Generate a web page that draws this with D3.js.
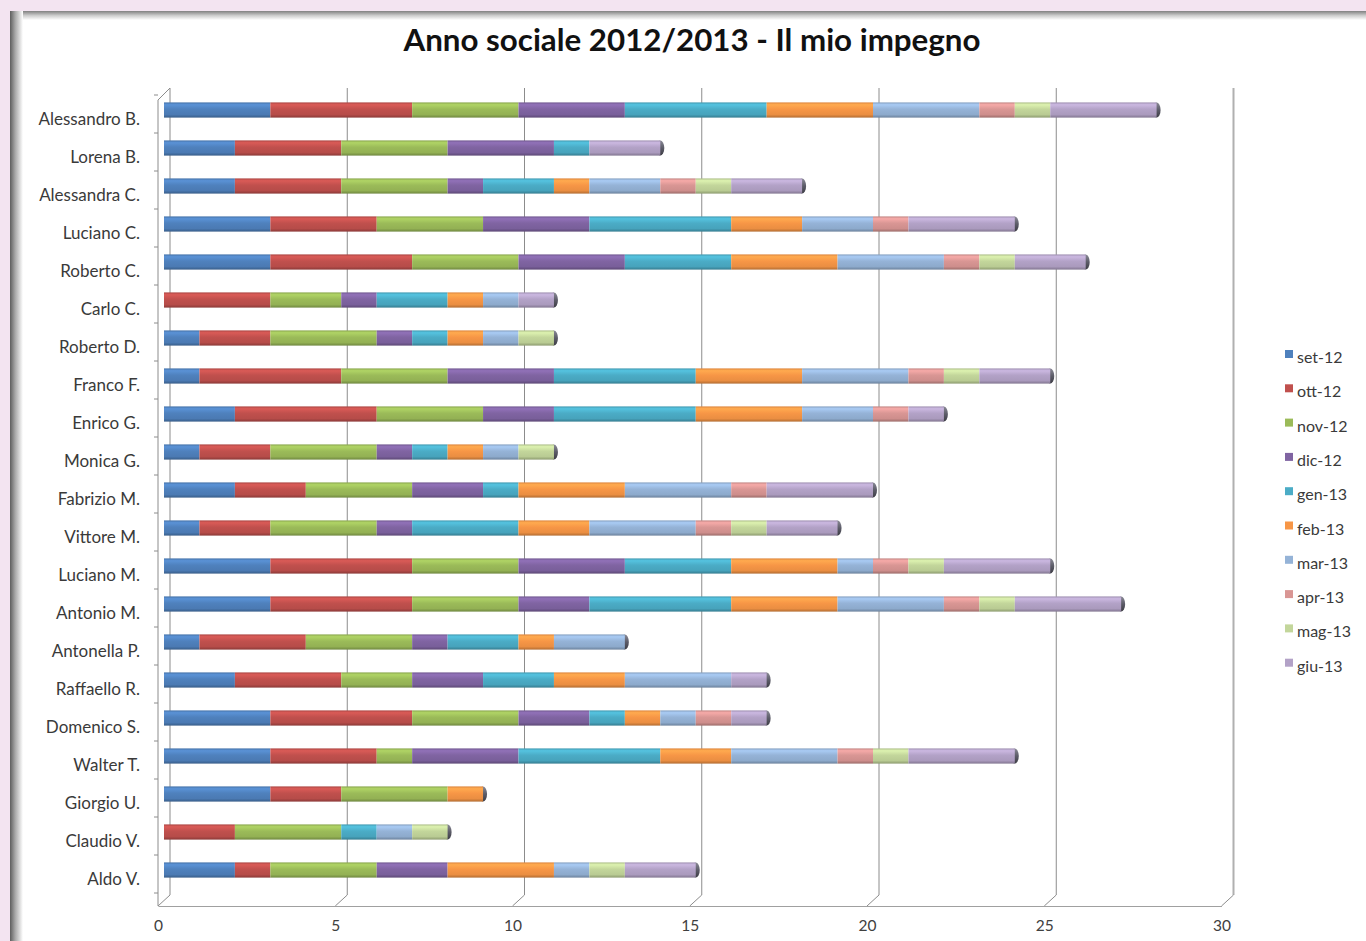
<!DOCTYPE html>
<html><head><meta charset="utf-8">
<script src="https://cdn.jsdelivr.net/npm/d3@7"></script>
<style>
html,body{margin:0;padding:0;background:#f3e4f1;overflow:hidden;}
svg{display:block;}
text{font-family:Lato,"Open Sans",sans-serif;}
</style></head>
<body>
<svg id="chart" width="1366" height="941"></svg>
<script>
const names = ["Alessandro B.","Lorena B.","Alessandra C.","Luciano C.","Roberto C.","Carlo C.","Roberto D.","Franco F.","Enrico G.","Monica G.","Fabrizio M.","Vittore M.","Luciano M.","Antonio M.","Antonella P.","Raffaello R.","Domenico S.","Walter T.","Giorgio U.","Claudio V.","Aldo V."];
const months = ["set-12","ott-12","nov-12","dic-12","gen-13","feb-13","mar-13","apr-13","mag-13","giu-13"];
const set12 = [3,2,2,3,3,0,1,1,2,1,2,1,3,3,1,2,3,3,3,0,2];
const ott12 = [4,3,3,3,4,3,2,4,4,2,2,2,4,4,3,3,4,3,2,2,1];
const nov12 = [3,3,3,3,3,2,3,3,3,3,3,3,3,3,3,2,3,1,3,3,3];
const dic12 = [3,3,1,3,3,1,1,3,2,1,2,1,3,2,1,2,2,3,0,0,2];
const gen13 = [4,1,2,4,3,2,1,4,4,1,1,3,3,4,2,2,1,4,0,1,0];
const feb13 = [3,0,1,2,3,1,1,3,3,1,3,2,3,3,1,2,1,2,1,0,3];
const mar13 = [3,0,2,2,3,1,1,3,2,1,3,3,1,3,2,3,1,3,0,1,1];
const apr13 = [1,0,1,1,1,0,0,1,1,0,1,1,1,1,0,0,1,1,0,0,0];
const mag13 = [1,0,1,0,1,0,1,1,0,1,0,1,1,1,0,0,0,1,0,1,1];
const giu13 = [3,2,2,3,2,1,0,2,1,0,3,2,3,3,0,1,1,3,0,0,2];
const xTicks = [0,5,10,15,20,25,30];
const title = "Anno sociale 2012/2013 - Il mio impegno";

const seriesValues = [set12,ott12,nov12,dic12,gen13,feb13,mar13,apr13,mag13,giu13];
const colors = ["#4f81bd","#c0504d","#9bbb59","#8064a2","#4bacc6","#f79646","#95b3d7","#d99694","#c3d69b","#b3a2c7"];

const table = names.map((n,i)=>{const o={name:n}; months.forEach((m,j)=>o[m]=seriesValues[j][i]); return o;});
const stacked = d3.stack().keys(months)(table);

const svg = d3.select("#chart");
const defs = svg.append("defs");

// panel with shadow
const sh1 = defs.append("linearGradient").attr("id","shL").attr("x1",0).attr("x2",1).attr("y1",0).attr("y2",0);
sh1.append("stop").attr("offset","0%").attr("stop-color","#5e5e5e");
sh1.append("stop").attr("offset","40%").attr("stop-color","#a8a8a8");
sh1.append("stop").attr("offset","100%").attr("stop-color","#ffffff");
const sh2 = defs.append("linearGradient").attr("id","shT").attr("x1",0).attr("x2",0).attr("y1",0).attr("y2",1);
sh2.append("stop").attr("offset","0%").attr("stop-color","#808080");
sh2.append("stop").attr("offset","50%").attr("stop-color","#cccccc");
sh2.append("stop").attr("offset","100%").attr("stop-color","#ffffff");
svg.append("rect").attr("x",10).attr("y",11).attr("width",1356).attr("height",930).attr("fill","#ffffff");
svg.append("rect").attr("x",10).attr("y",11).attr("width",1356).attr("height",9).attr("fill","url(#shT)");
svg.append("rect").attr("x",10).attr("y",11).attr("width",13).attr("height",930).attr("fill","url(#shL)");

// gradients for bars
colors.forEach((c,i)=>{
  const g = defs.append("linearGradient").attr("id","g"+i).attr("x1",0).attr("x2",0).attr("y1",0).attr("y2",1);
  const base = d3.color(c);
  g.append("stop").attr("offset","0%").attr("stop-color",base.darker(0.3));
  g.append("stop").attr("offset","15%").attr("stop-color",base.brighter(0.35));
  g.append("stop").attr("offset","45%").attr("stop-color",base);
  g.append("stop").attr("offset","80%").attr("stop-color",base.darker(0.15));
  g.append("stop").attr("offset","100%").attr("stop-color",base.darker(0.9));
});
const capG = defs.append("linearGradient").attr("id","cap").attr("x1",0).attr("x2",0).attr("y1",0).attr("y2",1);
capG.append("stop").attr("offset","0%").attr("stop-color","#8a8a96");
capG.append("stop").attr("offset","50%").attr("stop-color","#5c5c68");
capG.append("stop").attr("offset","100%").attr("stop-color","#3c3c44");

// scales
const xBar = d3.scaleLinear().domain([0,30]).range([164,164+35.45*30]);
const xBack = d3.scaleLinear().domain([0,30]).range([170,170+35.45*30]);
const xFront = d3.scaleLinear().domain([0,30]).range([158,158+35.45*30]);
const y = d3.scaleBand().domain(names).range([91,889]).paddingInner(0.6).paddingOuter(0.3);
const backTop = 88, backBottom = 895, floorY = 906;

// gridlines on back wall + floor diagonals
const grid = svg.append("g");
grid.selectAll("line.v").data(xTicks).join("line")
  .attr("x1",d=>xBack(d)).attr("x2",d=>xBack(d)).attr("y1",backTop).attr("y2",backBottom)
  .attr("stroke",(d)=>d===30?"#b0b0b0":"#8c8c8c").attr("stroke-width",d=>d===30?2:1);
grid.selectAll("line.f").data(xTicks).join("line")
  .attr("x1",d=>xBack(d)).attr("x2",d=>xFront(d)).attr("y1",backBottom).attr("y2",floorY)
  .attr("stroke","#8c8c8c").attr("stroke-width",1);

// left axis (front edge)
svg.append("line").attr("x1",xFront(0)).attr("x2",xFront(0)).attr("y1",100).attr("y2",floorY).attr("stroke","#8c8c8c");
svg.append("line").attr("x1",xFront(0)).attr("x2",xBack(0)).attr("y1",100).attr("y2",backTop).attr("stroke","#8c8c8c");
const bounds = names.map(n=>y(n)-y.step()*y.paddingInner()/2).concat([y(names[names.length-1])+y.bandwidth()+y.step()*y.paddingInner()/2]);
svg.selectAll("line.tk").data(bounds).join("line")
  .attr("x1",xFront(0)-4).attr("x2",xFront(0)).attr("y1",d=>d+4).attr("y2",d=>d+4)
  .attr("stroke","#8c8c8c");

// bottom axis
const xAxis = d3.axisBottom(xFront).tickValues(xTicks).tickSize(0).tickPadding(14).tickFormat(d3.format("d"));
const ax = svg.append("g").attr("transform",`translate(0,${floorY})`).call(xAxis);
ax.select(".domain").attr("stroke","#a0a0a0");
ax.selectAll("text").attr("font-size",15.5).attr("fill","#404040").style("font-family","Lato, 'Open Sans', sans-serif");

// caps at bar ends
const totals = table.map(d=>d3.sum(months,m=>d[m]));
svg.append("g").selectAll("ellipse").data(names).join("ellipse")
  .attr("cx",(d,i)=>xBar(totals[i])).attr("cy",d=>y(d)+y.bandwidth()/2)
  .attr("rx",4).attr("ry",y.bandwidth()/2).attr("fill","url(#cap)");

// bars
const bars = svg.append("g");
stacked.forEach((s,i)=>{
  bars.append("g").attr("fill",`url(#g${i})`)
    .selectAll("rect").data(s.filter(d=>d[1]>d[0])).join("rect")
    .attr("x",d=>xBar(d[0])).attr("width",d=>xBar(d[1])-xBar(d[0]))
    .attr("y",d=>y(d.data.name)).attr("height",y.bandwidth());
});

// category labels
svg.append("g").selectAll("text").data(names).join("text")
  .attr("x",140).attr("y",d=>y(d)+y.bandwidth()/2+14.5)
  .attr("text-anchor","end").attr("font-size",17).attr("fill","#3a3a3a").text(d=>d);

// title
svg.append("text").attr("x",692).attr("y",51).attr("text-anchor","middle")
  .attr("font-size",31.3).attr("font-weight","bold").attr("fill","#111").text(title);

// legend
const lg = svg.append("g").selectAll("g").data(months).join("g")
  .attr("transform",(d,i)=>`translate(1285,${357+i*34.3})`);
lg.append("rect").attr("x",0).attr("y",-7).attr("width",8).attr("height",8).attr("fill",(d,i)=>colors[i]);
lg.append("text").attr("x",12).attr("y",6).attr("font-size",16).attr("fill","#3a3a3a").text(d=>d);
</script>
</body></html>
